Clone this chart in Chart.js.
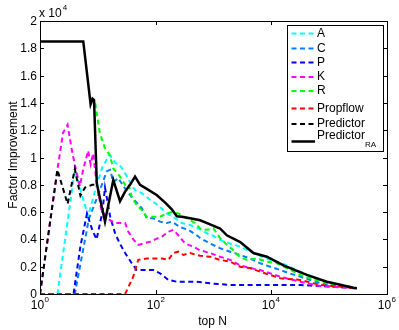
<!DOCTYPE html>
<html>
<head>
<meta charset="utf-8">
<script src="https://cdn.jsdelivr.net/npm/chart.js@4.4.0/dist/chart.umd.min.js"></script>
<style>
  body { margin: 0; background: #fff; }
  #wrap { width: 399px; height: 330px; position: relative; }
</style>
</head>
<body>
<div id="wrap"><canvas id="chart"></canvas></div>
<script>
// values in units of x10^4, N = top N
const nA = [1, 2, 3, 4, 6.8, 9, 12, 16, 20, 24, 30, 36, 44, 57, 80, 111, 156, 217, 283, 394, 548, 766, 1000, 1300, 1940, 2880, 4300, 6400, 9500, 14200, 18500, 31500, 70000, 300000];
const vA = [0, 0, 0.53, 0.91, 0.57, 0.76, 0.93, 1.02, 0.96, 0.945, 0.88, 0.82, 0.76, 0.74, 0.69, 0.65, 0.59, 0.555, 0.52, 0.505, 0.48, 0.445, 0.425, 0.395, 0.37, 0.347, 0.31, 0.28, 0.25, 0.23, 0.21, 0.163, 0.103, 0.042];

const nC = [1, 4, 7, 9.6, 14.3, 16.3, 18.5, 22.6, 27.6, 40, 57.5, 70, 91, 119, 156, 190, 264, 368, 514, 587, 873, 1300, 1940, 2880, 4300, 6400, 9530, 14200, 21000, 31500, 70000, 300000];
const vC = [0, 0, 0.55, 0.70, 0.90, 0.91, 0.82, 0.85, 0.79, 0.70, 0.63, 0.555, 0.555, 0.53, 0.52, 0.53, 0.49, 0.47, 0.43, 0.41, 0.37, 0.335, 0.31, 0.286, 0.26, 0.225, 0.20, 0.176, 0.15, 0.127, 0.078, 0.042];

const nP = [1, 3.8, 5, 6.5, 8, 9.5, 12, 13.3, 16.3, 20, 24, 29.6, 38.6, 47, 61, 91, 119, 166, 232, 345, 514, 873, 1940, 4300, 9500, 18500, 31500, 70000, 300000];
const vP = [0, 0, 0.35, 0.59, 0.47, 0.40, 0.60, 0.78, 0.57, 0.44, 0.37, 0.30, 0.225, 0.176, 0.176, 0.176, 0.152, 0.103, 0.09, 0.09, 0.09, 0.078, 0.066, 0.066, 0.066, 0.066, 0.066, 0.058, 0.042];

const nK = [1, 2, 2.5, 3, 3.5, 4, 4.9, 5.5, 6.8, 7.5, 8.3, 9.4, 11.5, 14, 16.3, 19.9, 29.6, 33.7, 41, 50, 61, 80, 98, 128, 166, 202, 247, 323, 449, 587, 873, 1300, 1940, 2880, 4300, 6400, 9500, 14200, 31500, 70000, 300000];
const vK = [0, 0.91, 1.18, 1.24, 1.07, 0.945, 0.79, 0.90, 1.05, 0.95, 1.03, 0.835, 0.615, 0.566, 0.54, 0.52, 0.52, 0.456, 0.40, 0.36, 0.37, 0.383, 0.40, 0.42, 0.456, 0.47, 0.43, 0.37, 0.347, 0.32, 0.30, 0.273, 0.25, 0.21, 0.19, 0.176, 0.152, 0.127, 0.09, 0.058, 0.042];

const nR = [9, 10.8, 13.2, 16, 18.5, 24.2, 29.6, 33.7, 38.6, 47, 57.5, 70, 119, 156, 190, 247, 345, 481, 587, 766, 996, 1300, 1700, 2210, 2880, 3770, 5610, 8360, 12450, 18550, 31500, 70000, 300000];
const vR = [1.40, 1.18, 1.07, 1.02, 0.92, 0.86, 0.80, 0.81, 0.71, 0.65, 0.615, 0.566, 0.566, 0.59, 0.60, 0.59, 0.555, 0.52, 0.48, 0.47, 0.48, 0.41, 0.36, 0.32, 0.27, 0.25, 0.26, 0.237, 0.225, 0.19, 0.14, 0.09, 0.042];

const nProp = [1, 29.6, 41, 50, 70, 98, 128, 166, 202, 247, 301, 394, 514, 587, 873, 1300, 1940, 2880, 4300, 6400, 9530, 14200, 31500, 70000, 300000];
const vProp = [0, 0, 0.127, 0.25, 0.26, 0.26, 0.26, 0.25, 0.30, 0.31, 0.286, 0.30, 0.286, 0.28, 0.273, 0.25, 0.237, 0.20, 0.19, 0.163, 0.14, 0.115, 0.103, 0.066, 0.042];

const nPred = [1, 2, 3, 4, 5, 6, 7, 8, 9, 10];
const vPred = [0, 0.91, 0.66, 0.915, 0.72, 0.78, 0.79, 0.80, 0.80, 0.79];

const nRA = [1, 5.6, 7.5, 8.1, 8.6, 9.6, 13.3, 18.5, 24.2, 29.6, 36, 44, 53.7, 70, 104, 146, 190, 232, 283, 394, 587, 873, 1300, 1700, 2900, 4900, 8360, 16200, 41100, 91200, 263000, 301500];
const vRA = [1.85, 1.85, 1.39, 1.43, 1.42, 0.81, 0.53, 0.835, 0.68, 0.75, 0.80, 0.86, 0.80, 0.77, 0.725, 0.67, 0.62, 0.57, 0.566, 0.555, 0.54, 0.51, 0.48, 0.43, 0.38, 0.30, 0.273, 0.21, 0.14, 0.09, 0.046, 0.042];

const seriesNames = ['A', 'C', 'P', 'K', 'R', 'Propflow', 'Predictor', 'Predictor'];
const seriesColors = ['#00ffff', '#0080ff', '#0000ff', '#ff00ff', '#00ff00', '#ff0000', '#000000', '#000000'];
const yTicks = [0, 0.2, 0.4, 0.6, 0.8, 1, 1.2, 1.4, 1.6, 1.8, 2];
const xTickExps = [0, 2, 4, 6];

const FONT = '"Liberation Sans", Arial, Helvetica, sans-serif';
const allN = [nA, nC, nP, nK, nR, nProp, nPred, nRA];
const allV = [vA, vC, vP, vK, vR, vProp, vPred, vRA];

const datasets = allN.map((ns, i) => ({
    label: seriesNames[i],
    data: ns.map((n, j) => ({ x: n, y: allV[i][j] })),
    borderColor: seriesColors[i],
    borderWidth: i === 7 ? 2.5 : 2,
    borderDash: i === 7 ? [] : [5, 3.5],
    pointRadius: 0,
    tension: 0,
    fill: false,
    order: 8 - i
}));

const matlabAxes = {
    id: 'matlabAxes',
    afterDraw(chart) {
        const { ctx, chartArea: a, scales: { x, y } } = chart;
        ctx.save();
        ctx.strokeStyle = '#000';
        ctx.lineWidth = 1;
        ctx.strokeRect(a.left + 0.5, a.top + 0.5, a.right - a.left, a.bottom - a.top);

        ctx.fillStyle = '#000';
        ctx.font = '12px ' + FONT;
        ctx.textAlign = 'right';
        ctx.textBaseline = 'middle';
        yTicks.forEach(v => {
            const py = Math.round(y.getPixelForValue(v)) + 0.5;
            ctx.beginPath();
            ctx.moveTo(a.left, py); ctx.lineTo(a.left + 4, py);
            ctx.moveTo(a.right, py); ctx.lineTo(a.right - 4, py);
            ctx.stroke();
            ctx.fillText(String(Number(v.toFixed(1))), a.left - 3, py);
        });

        xTickExps.forEach(e => {
            const px = Math.round(x.getPixelForValue(Math.pow(10, e))) + 0.5;
            ctx.beginPath();
            ctx.moveTo(px, a.bottom); ctx.lineTo(px, a.bottom - 4);
            ctx.moveTo(px, a.top); ctx.lineTo(px, a.top + 4);
            ctx.stroke();
            ctx.font = '12px ' + FONT;
            ctx.textAlign = 'center';
            ctx.fillText('10', px - 3, a.bottom + 12);
            ctx.font = '8px ' + FONT;
            ctx.textAlign = 'left';
            ctx.fillText(String(e), px + 4, a.bottom + 6);
        });

        // multiplier
        ctx.textAlign = 'left';
        ctx.font = '12px ' + FONT;
        ctx.fillText('x 10', a.left - 1, a.top - 7);
        const mw = ctx.measureText('x 10').width;
        ctx.font = '8px ' + FONT;
        ctx.fillText('4', a.left + mw, a.top - 13);

        // axis titles
        ctx.font = '12px ' + FONT;
        ctx.textAlign = 'center';
        ctx.fillText('top N', 212.5, 322);
        ctx.save();
        ctx.translate(14, 155);
        ctx.rotate(-Math.PI / 2);
        ctx.fillText('Factor Improvement', 0, 0);
        ctx.restore();

        // legend
        const bx = 287.5, by = 25.5, bw = 96, bh = 126;
        ctx.fillStyle = '#fff';
        ctx.fillRect(bx, by, bw, bh);
        ctx.strokeStyle = '#000';
        ctx.lineWidth = 1;
        ctx.strokeRect(bx, by, bw, bh);
        const rowY = [33.5, 48.5, 62.5, 77, 91, 108.5, 124, 141.5];
        chart.data.datasets.forEach((ds, i) => {
            const ly = rowY[i];
            ctx.beginPath();
            ctx.strokeStyle = ds.borderColor;
            ctx.lineWidth = ds.borderWidth;
            ctx.setLineDash(ds.borderDash);
            ctx.moveTo(291.5, ly); ctx.lineTo(315, ly);
            ctx.stroke();
            ctx.setLineDash([]);
            ctx.fillStyle = '#000';
            ctx.font = '12px ' + FONT;
            ctx.textAlign = 'left';
            ctx.textBaseline = 'middle';
            if (i === 7) {
                ctx.fillText(ds.label, 317, 136);
                const w = ctx.measureText(ds.label).width;
                ctx.font = '8px ' + FONT;
                ctx.fillText('RA', 317 + w, 145);
            } else {
                ctx.fillText(ds.label, 317, ly);
            }
        });
        ctx.restore();
    }
};

new Chart(document.getElementById('chart'), {
    type: 'line',
    data: { datasets: datasets },
    options: {
        responsive: true,
        maintainAspectRatio: false,
        animation: false,
        layout: { padding: { left: 40, top: 21, right: 12, bottom: 36 } },
        plugins: { legend: { display: false }, tooltip: { enabled: false } },
        scales: {
            x: { type: 'logarithmic', min: 1, max: 1000000, display: false },
            y: { type: 'linear', min: 0, max: 2, display: false }
        }
    },
    plugins: [matlabAxes]
});
</script>
</body>
</html>
